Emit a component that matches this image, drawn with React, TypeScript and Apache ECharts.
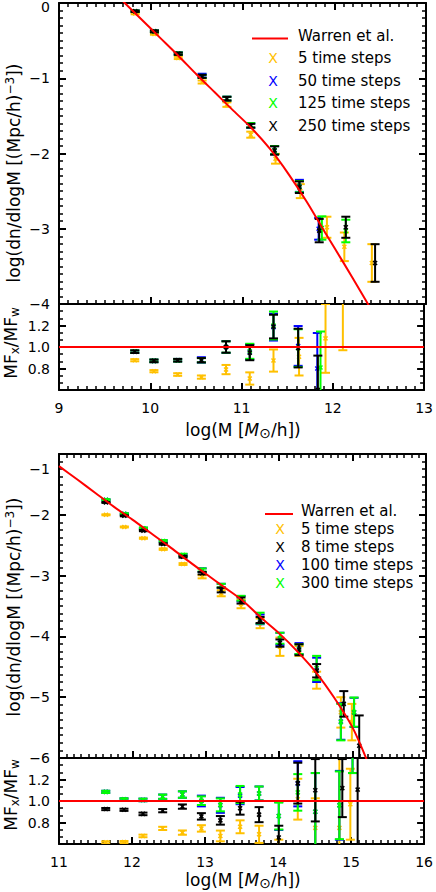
import React, { useEffect, useRef } from "react";
import * as echarts from "echarts";

// ---------- axis ranges ----------
const topMassRange = [9, 13];
const topLogRange = [-4, 0];
const botMassRange = [11, 16];
const botLogRange = [-6, -1];
const ratioRange = [0.6, 1.4];

// ---------- legends ----------
const topLegend = ["Warren et al.", "5 time steps", "50 time steps", "125 time steps", "250 time steps"];
const botLegend = ["Warren et al.", "5 time steps", "8 time steps", "100 time steps", "300 time steps"];

// ---------- Warren et al. fits ----------
const warrenTopM = [9.7, 9.9, 10.1, 10.3, 10.5, 10.7, 10.9, 11.1, 11.3, 11.5, 11.7, 11.9, 12.1, 12.3, 12.4];
const warrenTopV = [0.02, -0.22, -0.46, -0.7, -0.95, -1.19, -1.43, -1.665, -1.94, -2.27, -2.64, -3.05, -3.45, -3.86, -4.07];
const warrenBotM = [11.0, 11.25, 11.5, 11.75, 12.0, 12.25, 12.5, 12.75, 13.0, 13.25, 13.5, 13.75, 14.0, 14.25, 14.5, 14.75, 15.0, 15.2];
const warrenBotV = [-1.2, -1.42, -1.645, -1.87, -2.08, -2.3, -2.52, -2.75, -2.97, -3.19, -3.41, -3.69, -3.95, -4.25, -4.59, -5.01, -5.5, -6.05];

// ---------- top panel, mass function ----------
const topMain5X = [9.83, 10.04, 10.3, 10.56, 10.83, 11.09, 11.36, 11.63, 11.92, 12.11, 12.41];
const topMain5Y = [-0.14, -0.41, -0.73, -1.05, -1.35, -1.75, -2.07, -2.5, -2.98, -3.24, -3.455];
const topMain5E = [0.01, 0.012, 0.015, 0.02, 0.03, 0.04, 0.065, 0.093, 0.14, 0.19, 0.25];
const topMain50X = [9.83, 10.04, 10.3, 10.56, 10.83, 11.09, 11.35, 11.62, 11.83];
const topMain50Y = [-0.11, -0.375, -0.67, -0.965, -1.27, -1.63, -1.955, -2.43, -3.0];
const topMain50E = [0.01, 0.012, 0.015, 0.025, 0.025, 0.03, 0.055, 0.08, 0.145];
const topMain125X = [9.83, 10.04, 10.3, 10.56, 10.83, 11.09, 11.35, 11.62, 11.865, 12.126];
const topMain125Y = [-0.11, -0.377, -0.672, -0.975, -1.27, -1.625, -1.955, -2.44, -2.99, -3.03];
const topMain125E = [0.01, 0.012, 0.015, 0.02, 0.025, 0.03, 0.055, 0.075, 0.155, 0.15];
const topMain250X = [9.83, 10.04, 10.3, 10.56, 10.83, 11.09, 11.35, 11.62, 11.836, 12.126, 12.445];
const topMain250Y = [-0.11, -0.377, -0.674, -0.975, -1.272, -1.63, -1.96, -2.448, -3.025, -2.98, -3.455];
const topMain250E = [0.01, 0.012, 0.015, 0.02, 0.025, 0.025, 0.055, 0.077, 0.155, 0.14, 0.25];

// ---------- top panel, ratio ----------
const topRatio5X = [9.83, 10.04, 10.3, 10.56, 10.83, 11.09, 11.35, 11.63, 11.92, 12.11];
const topRatio5Y = [0.877, 0.775, 0.744, 0.72, 0.79, 0.707, 0.874, 0.91, 1.08, 1.45];
const topRatio5E = [0.01, 0.01, 0.012, 0.015, 0.043, 0.057, 0.103, 0.175, 0.32, 0.48];
const topRatio50X = [9.83, 10.04, 10.3, 10.56, 10.83, 11.09, 11.35, 11.62, 11.83];
const topRatio50Y = [0.956, 0.871, 0.877, 0.88, 1.0, 0.955, 1.185, 1.01, 0.8];
const topRatio50E = [0.012, 0.012, 0.012, 0.025, 0.055, 0.07, 0.125, 0.185, 0.33];
const topRatio125X = [9.83, 10.04, 10.3, 10.56, 10.83, 11.09, 11.35, 11.62, 11.865];
const topRatio125Y = [0.956, 0.871, 0.877, 0.877, 1.0, 0.96, 1.2, 0.99, 0.81];
const topRatio125E = [0.012, 0.012, 0.012, 0.02, 0.053, 0.07, 0.13, 0.175, 0.334];
const topRatio250X = [9.83, 10.04, 10.3, 10.56, 10.83, 11.09, 11.35, 11.62, 11.836];
const topRatio250Y = [0.956, 0.871, 0.877, 0.877, 1.0, 0.947, 1.19, 0.99, 0.6];
const topRatio250E = [0.012, 0.012, 0.012, 0.02, 0.053, 0.07, 0.11, 0.18, 0.32];

// ---------- bottom panel, mass function ----------
const botMain5X = [11.64, 11.89, 12.15, 12.42, 12.69, 12.95, 13.21, 13.48, 13.74, 14.01, 14.27, 14.51, 14.84, 14.99];
const botMain5Y = [-2.0, -2.2, -2.385, -2.565, -2.81, -3.02, -3.29, -3.467, -3.785, -4.17, -4.24, -4.72, -5.25, -5.41];
const botMain5E = [0.008, 0.008, 0.01, 0.012, 0.015, 0.025, 0.05, 0.07, 0.08, 0.15, 0.08, 0.14, 0.25, 0.3];
const botMain8X = [11.64, 11.89, 12.15, 12.42, 12.69, 12.95, 13.21, 13.48, 13.74, 14.01, 14.27, 14.51, 14.88, 15.09];
const botMain8Y = [-1.797, -2.017, -2.26, -2.48, -2.69, -2.96, -3.236, -3.41, -3.73, -4.11, -4.22, -4.565, -5.11, -5.8];
const botMain8E = [0.008, 0.008, 0.01, 0.012, 0.015, 0.02, 0.04, 0.05, 0.05, 0.06, 0.09, 0.11, 0.21, 0.5];
const botMain100X = [11.64, 11.89, 12.15, 12.42, 12.69, 12.95, 13.21, 13.48, 13.74, 14.01, 14.27, 14.51, 14.84, 15.02];
const botMain100Y = [-1.755, -1.985, -2.225, -2.435, -2.665, -2.91, -3.17, -3.38, -3.72, -4.04, -4.2, -4.55, -5.4, -5.25];
const botMain100E = [0.01, 0.01, 0.012, 0.015, 0.02, 0.03, 0.035, 0.045, 0.08, 0.1, 0.09, 0.2, 0.3, 0.24];
const botMain300X = [11.64, 11.89, 12.15, 12.42, 12.69, 12.95, 13.21, 13.48, 13.74, 14.01, 14.27, 14.51, 14.84, 15.02];
const botMain300Y = [-1.753, -1.984, -2.22, -2.43, -2.66, -2.907, -3.165, -3.373, -3.7, -4.03, -4.21, -4.52, -5.41, -5.245];
const botMain300E = [0.01, 0.01, 0.012, 0.015, 0.02, 0.025, 0.03, 0.04, 0.09, 0.09, 0.08, 0.2, 0.3, 0.24];

// ---------- bottom panel, ratio ----------
const botRatio5X = [11.64, 11.89, 12.15, 12.42, 12.69, 12.95, 13.21, 13.48, 13.74, 14.01, 14.27, 14.51, 14.84, 14.99];
const botRatio5Y = [0.615, 0.618, 0.675, 0.745, 0.706, 0.745, 0.675, 0.76, 0.69, 0.58, 1.017, 0.75, 0.75, 0.97];
const botRatio5E = [0.01, 0.01, 0.012, 0.015, 0.02, 0.03, 0.05, 0.06, 0.08, 0.06, 0.19, 0.275, 0.9, 0.33];
const botRatio8X = [11.64, 11.89, 12.15, 12.42, 12.69, 12.95, 13.21, 13.48, 13.74, 14.01, 14.27, 14.51, 14.88, 15.09];
const botRatio8Y = [0.925, 0.918, 0.88, 0.91, 0.948, 0.857, 0.82, 0.933, 0.873, 0.66, 1.166, 1.1, 1.12, 1.106];
const botRatio8E = [0.01, 0.01, 0.012, 0.015, 0.02, 0.03, 0.04, 0.06, 0.07, 0.11, 0.19, 0.29, 0.27, 0.65];
const botRatio100X = [11.64, 11.89, 12.15, 12.42, 12.69, 12.95, 13.21, 13.48, 13.74, 14.01, 14.27, 14.51, 14.84, 15.02];
const botRatio100Y = [1.085, 1.015, 1.01, 1.04, 1.06, 1.0, 0.96, 1.05, 1.07, 0.86, 1.16, 0.9, 0.96, 1.6];
const botRatio100E = [0.01, 0.01, 0.012, 0.02, 0.03, 0.05, 0.07, 0.08, 0.065, 0.13, 0.21, 0.36, 0.32, 0.34];
const botRatio300X = [11.64, 11.89, 12.15, 12.42, 12.69, 12.95, 13.21, 13.48, 13.74, 14.01, 14.27, 14.51, 14.84, 15.02];
const botRatio300Y = [1.085, 1.015, 1.01, 1.04, 1.06, 1.003, 0.964, 1.06, 1.07, 0.86, 1.08, 0.9, 0.96, 1.6];
const botRatio300E = [0.01, 0.01, 0.012, 0.02, 0.03, 0.04, 0.06, 0.08, 0.065, 0.125, 0.17, 0.36, 0.315, 0.34];

// ---------- styling ----------
const FONT = "DejaVu Sans";
const YELLOW = "#FFC000";
const BLUE = "#0000FF";
const GREEN = "#00FF00";
const BLACK = "#000000";
const RED = "#FF0000";

const minus = (v: number) => (v < 0 ? "\u2212" + Math.abs(v) : String(v));

function errSeries(xs: number[], ys: number[], es: number[], color: string, axis: number) {
  return {
    type: "custom",
    xAxisIndex: axis * 2,
    yAxisIndex: axis * 2,
    clip: true,
    dimensions: ["x", "y", "e"],
    encode: { x: 0, y: 1 },
    data: xs.map((x, i) => [x, ys[i], es[i]]),
    renderItem: (_p: any, api: any) => {
      const x = api.value(0);
      const y = api.value(1);
      const e = api.value(2);
      const c = api.coord([x, y]);
      const hi = api.coord([x, y + e]);
      const lo = api.coord([x, y - e]);
      const w = 4.5;
      const m = 2;
      const st = { stroke: color, lineWidth: 2 };
      const sm = { stroke: color, lineWidth: 1.5 };
      return {
        type: "group",
        children: [
          { type: "line", shape: { x1: c[0], y1: hi[1], x2: c[0], y2: lo[1] }, style: st },
          { type: "line", shape: { x1: c[0] - w, y1: hi[1], x2: c[0] + w, y2: hi[1] }, style: st },
          { type: "line", shape: { x1: c[0] - w, y1: lo[1], x2: c[0] + w, y2: lo[1] }, style: st },
          { type: "line", shape: { x1: c[0] - m, y1: c[1] - m, x2: c[0] + m, y2: c[1] + m }, style: sm },
          { type: "line", shape: { x1: c[0] - m, y1: c[1] + m, x2: c[0] + m, y2: c[1] - m }, style: sm },
        ],
      };
    },
  };
}

function lineSeries(xs: number[], ys: number[], axis: number) {
  return {
    type: "line",
    xAxisIndex: axis * 2,
    yAxisIndex: axis * 2,
    data: xs.map((x, i) => [x, ys[i]]),
    showSymbol: false,
    symbol: "none",
    clip: true,
    smooth: 0.3,
    lineStyle: { color: RED, width: 2 },
  };
}

const lineStyle = { color: "#000", width: 2 };

function xAxes(grid: number, range: number[], labels: boolean) {
  const common = {
    type: "value",
    gridIndex: grid,
    min: range[0],
    max: range[1],
    interval: 1,
    splitLine: { show: false },
    minorSplitLine: { show: false },
    axisLine: { show: true, onZero: false, lineStyle },
  };
  const isRatio = grid % 2 === 1;
  return [
    {
      ...common,
      position: "bottom",
      axisTick: { show: true, inside: true, length: 7, lineStyle },
      minorTick: { show: true, splitNumber: 10, length: 4, lineStyle: { color: "#000", width: 1.5 } },
      axisLabel: {
        show: labels,
        color: "#000",
        fontFamily: FONT,
        fontSize: 14,
        margin: 11,
        formatter: (v: number) => String(v),
      },
    },
    {
      ...common,
      position: "top",
      axisTick: { show: !isRatio, inside: true, length: 7, lineStyle },
      minorTick: { show: !isRatio, splitNumber: 10, length: 4, lineStyle: { color: "#000", width: 1.5 } },
      axisLabel: { show: false },
    },
  ];
}

function yAxes(grid: number, range: number[], interval: number, minor: number, fmt: (v: number) => string, showMax: boolean) {
  const common = {
    type: "value",
    gridIndex: grid,
    min: range[0],
    max: range[1],
    interval,
    splitLine: { show: false },
    minorSplitLine: { show: false },
    axisLine: { show: true, onZero: false, lineStyle },
    axisTick: { show: true, inside: true, length: 7, lineStyle },
    minorTick: { show: true, splitNumber: minor, length: 4, lineStyle: { color: "#000", width: 1.5 } },
  };
  const isRatio = grid % 2 === 1;
  return [
    {
      ...common,
      position: "left",
      axisLabel: {
        show: true,
        color: "#000",
        fontFamily: FONT,
        fontSize: 14,
        margin: 9,
        showMaxLabel: showMax,
        showMinLabel: !isRatio,
        formatter: fmt,
      },
    },
    { ...common, position: "right", axisLabel: { show: false } },
  ];
}

function legendGraphics(labels: string[], colors: string[], lineX: number[], lineY: number, markX: number, textX: number, rows: number[]) {
  const els: any[] = [
    { type: "line", shape: { x1: lineX[0], y1: lineY, x2: lineX[1], y2: lineY }, style: { stroke: RED, lineWidth: 2 } },
  ];
  labels.forEach((t, i) => {
    els.push({
      type: "text",
      x: textX,
      y: rows[i],
      style: { text: t, fill: "#000", font: `15px '${FONT}'`, align: "left", verticalAlign: "middle" },
    });
    if (i > 0) {
      els.push({
        type: "text",
        x: markX,
        y: rows[i],
        style: { text: "X", fill: colors[i - 1], font: `14px '${FONT}'`, align: "center", verticalAlign: "middle" },
      });
    }
  });
  return els;
}

function titleGraphics(cx: number, yTitleY: number, ratioTitleY: number, xTitleY: number) {
  const richBase = {
    a: { fontSize: 17, fontFamily: FONT, fill: "#000" },
    s: { fontSize: 12, fontFamily: FONT, fill: "#000", verticalAlign: "top", lineHeight: 20 },
    b: { fontSize: 12, fontFamily: FONT, fill: "#000", verticalAlign: "bottom", lineHeight: 20 },
    i: { fontSize: 17, fontFamily: FONT, fontStyle: "italic", fill: "#000" },
    o: { fontSize: 14, fontFamily: FONT, fill: "#000", verticalAlign: "bottom", lineHeight: 20 },
  };
  return [
    {
      type: "text",
      x: 13.5,
      y: yTitleY,
      rotation: Math.PI / 2,
      style: {
        text: "{a|log(dn/dlogM [(Mpc/h)}{s|\u22123}{a|])}",
        rich: richBase,
        align: "center",
        verticalAlign: "middle",
      },
    },
    {
      type: "text",
      x: 11,
      y: ratioTitleY,
      rotation: Math.PI / 2,
      style: {
        text: "{a|MF}{b|x}{a|/MF}{b|w}",
        rich: richBase,
        align: "center",
        verticalAlign: "middle",
      },
    },
    {
      type: "text",
      x: cx,
      y: xTitleY,
      style: {
        text: "{a|log(M [}{i|M}{o|\u2299}{a|/h])}",
        rich: richBase,
        align: "center",
        verticalAlign: "middle",
      },
    },
  ];
}

export default function App() {
  const ref = useRef<HTMLDivElement>(null);
  useEffect(() => {
    if (!ref.current) return;
    const chart = echarts.init(ref.current, undefined, { renderer: "svg" });
    const ratioFmt = (v: number) => v.toFixed(1);
    const option: any = {
      animation: false,
      backgroundColor: "#fff",
      textStyle: { fontFamily: FONT },
      grid: [
        { left: 59, top: 3, width: 367, height: 301 },
        { left: 59, top: 304, width: 367, height: 86 },
        { left: 59, top: 454, width: 367, height: 304 },
        { left: 59, top: 758, width: 367, height: 86 },
      ],
      xAxis: [
        ...xAxes(0, topMassRange, false),
        ...xAxes(1, topMassRange, true),
        ...xAxes(2, botMassRange, false),
        ...xAxes(3, botMassRange, true),
      ],
      yAxis: [
        ...yAxes(0, topLogRange, 1, 10, minus, false),
        ...yAxes(1, ratioRange, 0.2, 3, ratioFmt, false),
        ...yAxes(2, botLogRange, 1, 8, minus, false),
        ...yAxes(3, ratioRange, 0.2, 3, ratioFmt, false),
      ],
      series: [
        lineSeries(warrenTopM, warrenTopV, 0),
        errSeries(topMain5X, topMain5Y, topMain5E, YELLOW, 0),
        errSeries(topMain50X, topMain50Y, topMain50E, BLUE, 0),
        errSeries(topMain125X, topMain125Y, topMain125E, GREEN, 0),
        errSeries(topMain250X, topMain250Y, topMain250E, BLACK, 0),

        lineSeries(topMassRange, [1, 1], 1),
        errSeries(topRatio5X, topRatio5Y, topRatio5E, YELLOW, 1),
        errSeries(topRatio50X, topRatio50Y, topRatio50E, BLUE, 1),
        errSeries(topRatio125X, topRatio125Y, topRatio125E, GREEN, 1),
        errSeries(topRatio250X, topRatio250Y, topRatio250E, BLACK, 1),

        lineSeries(warrenBotM, warrenBotV, 2),
        errSeries(botMain5X, botMain5Y, botMain5E, YELLOW, 2),
        errSeries(botMain100X, botMain100Y, botMain100E, BLUE, 2),
        errSeries(botMain300X, botMain300Y, botMain300E, GREEN, 2),
        errSeries(botMain8X, botMain8Y, botMain8E, BLACK, 2),

        lineSeries(botMassRange, [1, 1], 3),
        errSeries(botRatio5X, botRatio5Y, botRatio5E, YELLOW, 3),
        errSeries(botRatio100X, botRatio100Y, botRatio100E, BLUE, 3),
        errSeries(botRatio300X, botRatio300Y, botRatio300E, GREEN, 3),
        errSeries(botRatio8X, botRatio8Y, botRatio8E, BLACK, 3),
      ],
      graphic: [
        {
          type: "text",
          x: 50,
          y: 7,
          style: { text: minus(topLogRange[1]), fill: "#000", font: `14px '${FONT}'`, align: "right", verticalAlign: "middle" },
        },
        {
          type: "text",
          x: 50,
          y: 469,
          style: { text: minus(botLogRange[1]), fill: "#000", font: `14px '${FONT}'`, align: "right", verticalAlign: "middle" },
        },
        ...legendGraphics(topLegend, [YELLOW, BLUE, GREEN, BLACK], [252, 288], 38.5, 273, 298, [36, 58, 80.5, 103, 125.5]),
        ...legendGraphics(botLegend, [YELLOW, BLACK, BLUE, GREEN], [265, 293], 514, 280, 301, [511, 529, 547, 565, 583]),
        ...titleGraphics(243, 173, 343, 430),
        ...titleGraphics(243, 607, 795, 880),
      ],
    };
    chart.setOption(option);
    return () => chart.dispose();
  }, []);
  return (
    <div
      ref={ref}
      style={{ position: "absolute", left: 0, top: 0, width: 436, height: 892, background: "#fff" }}
    />
  );
}
